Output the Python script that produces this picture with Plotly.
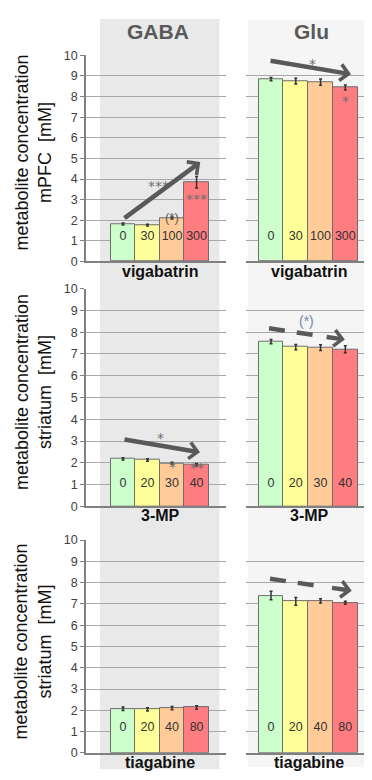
import plotly.graph_objects as go

# ---------------- data ----------------
vig_doses = ["0", "30", "100", "300"]
vig_gaba = [1.82, 1.76, 2.11, 3.84]
vig_gaba_err = [0.05, 0.04, 0.05, 0.28]
vig_glu = [8.84, 8.75, 8.70, 8.44]
vig_glu_err = [0.08, 0.14, 0.15, 0.12]

mp_doses = ["0", "20", "30", "40"]
mp_gaba = [2.18, 2.13, 1.98, 1.92]
mp_gaba_err = [0.05, 0.06, 0.05, 0.05]
mp_glu = [7.57, 7.32, 7.29, 7.22]
mp_glu_err = [0.10, 0.12, 0.13, 0.16]

tg_doses = ["0", "20", "40", "80"]
tg_gaba = [2.07, 2.04, 2.10, 2.13]
tg_gaba_err = [0.08, 0.08, 0.08, 0.08]
tg_glu = [7.39, 7.12, 7.14, 7.05]
tg_glu_err = [0.20, 0.18, 0.10, 0.07]

drugs = ["vigabatrin", "3-MP", "tiagabine"]
metabolites = ["GABA", "Glu"]
y_titles = ["metabolite concentration<br>mPFC  [mM]",
            "metabolite concentration<br>striatum  [mM]",
            "metabolite concentration<br>striatum  [mM]"]
y_ticks = list(range(0, 11))

bar_colors = ["#ccffcc", "#ffff99", "#ffcc99", "#ff7c80"]

W, H = 372, 780
OFF = 8  # default page body margin of the html page
FONT = "Liberation Sans, Arial, sans-serif"
STAR_FONT = "DejaVu Sans, sans-serif"

rows = [
    (vig_doses, vig_gaba, vig_gaba_err, vig_glu, vig_glu_err),
    (mp_doses, mp_gaba, mp_gaba_err, mp_glu, mp_glu_err),
    (tg_doses, tg_gaba, tg_gaba_err, tg_glu, tg_glu_err),
]

# pixel layout (screen pixels)
col_x = [(86, 226), (246, 380)]
col_range = [(-1.51, 4.2), (-1.01, 4.40)]
row_y = [(259, 49), (508.3, 286.7), (759.3, 542.7)]  # (y of 0, y of 10)
label_y = [1.18, 1.05, 1.15]


def px_x(p):
    return (p - OFF) / W


def px_y(p):
    return (H - (p - OFF)) / H


fig = go.Figure()
layout = dict(
    width=W, height=H, margin=dict(l=0, r=0, t=0, b=0),
    paper_bgcolor="white", plot_bgcolor="rgba(0,0,0,0)",
    showlegend=False, font=dict(family=FONT, color="#404040"),
    bargap=0,
)

annotations = []
shapes = []

# column backgrounds
shapes.append(dict(type="rect", xref="paper", yref="paper", layer="below",
                   x0=px_x(100), x1=px_x(219.5), y0=px_y(776), y1=px_y(12),
                   fillcolor="#e9e9e9", line=dict(width=0)))
shapes.append(dict(type="rect", xref="paper", yref="paper", layer="below",
                   x0=px_x(248), x1=px_x(380), y0=px_y(774), y1=px_y(13),
                   fillcolor="#f5f5f5", line=dict(width=0)))

idx = 0
for r, (doses, g, ge, u, ue) in enumerate(rows):
    for c, (vals, errs) in enumerate([(g, ge), (u, ue)]):
        idx += 1
        xa = "x" if idx == 1 else f"x{idx}"
        ya = "y" if idx == 1 else f"y{idx}"
        xs = list(range(len(doses)))
        fig.add_trace(go.Bar(
            x=xs, y=vals, width=1, xaxis=xa, yaxis=ya,
            marker=dict(color=bar_colors, line=dict(color="#6e6e6e", width=1)),
            error_y=dict(type="data", array=errs, visible=True,
                         color="#333333", thickness=1.5, width=1.5),
            hoverinfo="skip",
        ))
        fig.add_trace(go.Scatter(
            x=xs, y=[label_y[r]] * len(doses), text=doses, mode="text",
            xaxis=xa, yaxis=ya, textfont=dict(size=12.5, color="#333333"),
            hoverinfo="skip",
        ))
        x0, x1 = col_x[c]
        yb, yt = row_y[r]
        layout["xaxis" if idx == 1 else f"xaxis{idx}"] = dict(
            domain=[px_x(x0), min(1.0, px_x(x1))], range=list(col_range[c]),
            anchor=ya, showgrid=False, zeroline=False, showticklabels=False,
            ticks="", showline=True, linecolor="#808080", linewidth=1.5,
            fixedrange=True,
        )
        layout["yaxis" if idx == 1 else f"yaxis{idx}"] = dict(
            domain=[px_y(yb), px_y(yt)], range=[0, 10], tickvals=y_ticks,
            anchor=xa, showgrid=True, gridcolor="#a8a8a8", gridwidth=1.3,
            zeroline=False, showline=(c == 0), linecolor="#808080", linewidth=1.5,
            ticks="outside" if c == 0 else "", ticklen=4, tickcolor="#808080",
            showticklabels=(c == 0), tickfont=dict(size=12.5, color="#404040"),
            fixedrange=True,
        )
        # drug label under each panel
        cx = 160 if c == 0 else 309
        ly = [269, 518, 769][r]
        annotations.append(dict(xref="paper", yref="paper", x=px_x(cx), y=px_y(ly),
                                text=f"<b>{drugs[r]}</b>", showarrow=False,
                                xanchor="center", yanchor="middle",
                                font=dict(size=16, color="#111111", family=FONT)))
    # y title
    annotations.append(dict(xref="paper", yref="paper", x=px_x(33),
                            y=px_y([148, 392, 646][r]), text=y_titles[r],
                            textangle=-90, showarrow=False, xanchor="center",
                            yanchor="middle",
                            font=dict(size=18, color="#111111", family=FONT)))

# column titles
annotations.append(dict(xref="paper", yref="paper", x=px_x(158), y=px_y(25),
                        text="<b>GABA</b>", showarrow=False,
                        xanchor="center", yanchor="middle",
                        font=dict(size=21, color="#595959", family=FONT)))
annotations.append(dict(xref="paper", yref="paper", x=px_x(311), y=px_y(25),
                        text="<b>Glu</b>", showarrow=False,
                        xanchor="center", yanchor="middle",
                        font=dict(size=21, color="#595959", family=FONT)))

# significance marks: (subplot, x, y, text, size, color, font)
marks = [
    (1, 1.43, 3.67, "***", 14, "#707070", STAR_FONT),
    (1, 2.0, 2.12, "(*)", 13, "#5f5f5f", FONT),
    (1, 3.0, 3.02, "***", 14, "#707070", STAR_FONT),
    (2, 1.66, 9.60, "*", 14, "#707070", STAR_FONT),
    (2, 3.0, 7.79, "*", 14, "#707070", STAR_FONT),
    (3, 1.51, 3.14, "*", 14, "#707070", STAR_FONT),
    (3, 2.0, 1.80, "*", 14, "#707070", STAR_FONT),
    (3, 3.0, 1.78, "**", 14, "#707070", STAR_FONT),
    (4, 1.45, 8.51, "(*)", 14, "#7584a3", FONT),
]
for sp, mx, my, t, s, col, fam in marks:
    xr = "x" if sp == 1 else f"x{sp}"
    yr = "y" if sp == 1 else f"y{sp}"
    annotations.append(dict(xref=xr, yref=yr, x=mx, y=my, text=t, showarrow=False,
                            font=dict(size=s, color=col, family=fam)))

# trend arrows: (subplot, tail, head, dashed)
arrows = [
    (1, (0.0, 2.05), (3.15, 4.82), False),
    (2, (-0.08, 9.75), (3.23, 9.08), False),
    (3, (0.0, 3.08), (3.14, 2.48), False),
    (4, (-0.08, 8.18), (2.98, 7.66), True),
    (6, (-0.04, 8.18), (3.26, 7.62), True),
]
ARROW_COL = "#595959"
for sp, (tx, ty), (hx, hy), dashed in arrows:
    xr = "x" if sp == 1 else f"x{sp}"
    yr = "y" if sp == 1 else f"y{sp}"
    if dashed:
        f_end, f_head = 0.58, 0.74
        shapes.append(dict(type="line", xref=xr, yref=yr,
                           x0=tx, y0=ty,
                           x1=tx + (hx - tx) * f_end, y1=ty + (hy - ty) * f_end,
                           line=dict(color=ARROW_COL, width=4.5, dash="16px,12px")))
        sx, sy = tx + (hx - tx) * f_head, ty + (hy - ty) * f_head
    else:
        sx, sy = tx, ty
    annotations.append(dict(xref=xr, yref=yr, axref=xr, ayref=yr,
                            x=hx, y=hy, ax=sx, ay=sy, text="", showarrow=True,
                            arrowhead=4, arrowsize=0.7, arrowwidth=4.5,
                            arrowcolor=ARROW_COL))

layout["annotations"] = annotations
layout["shapes"] = shapes
fig.update_layout(**layout)
fig.write_html("out.html")
